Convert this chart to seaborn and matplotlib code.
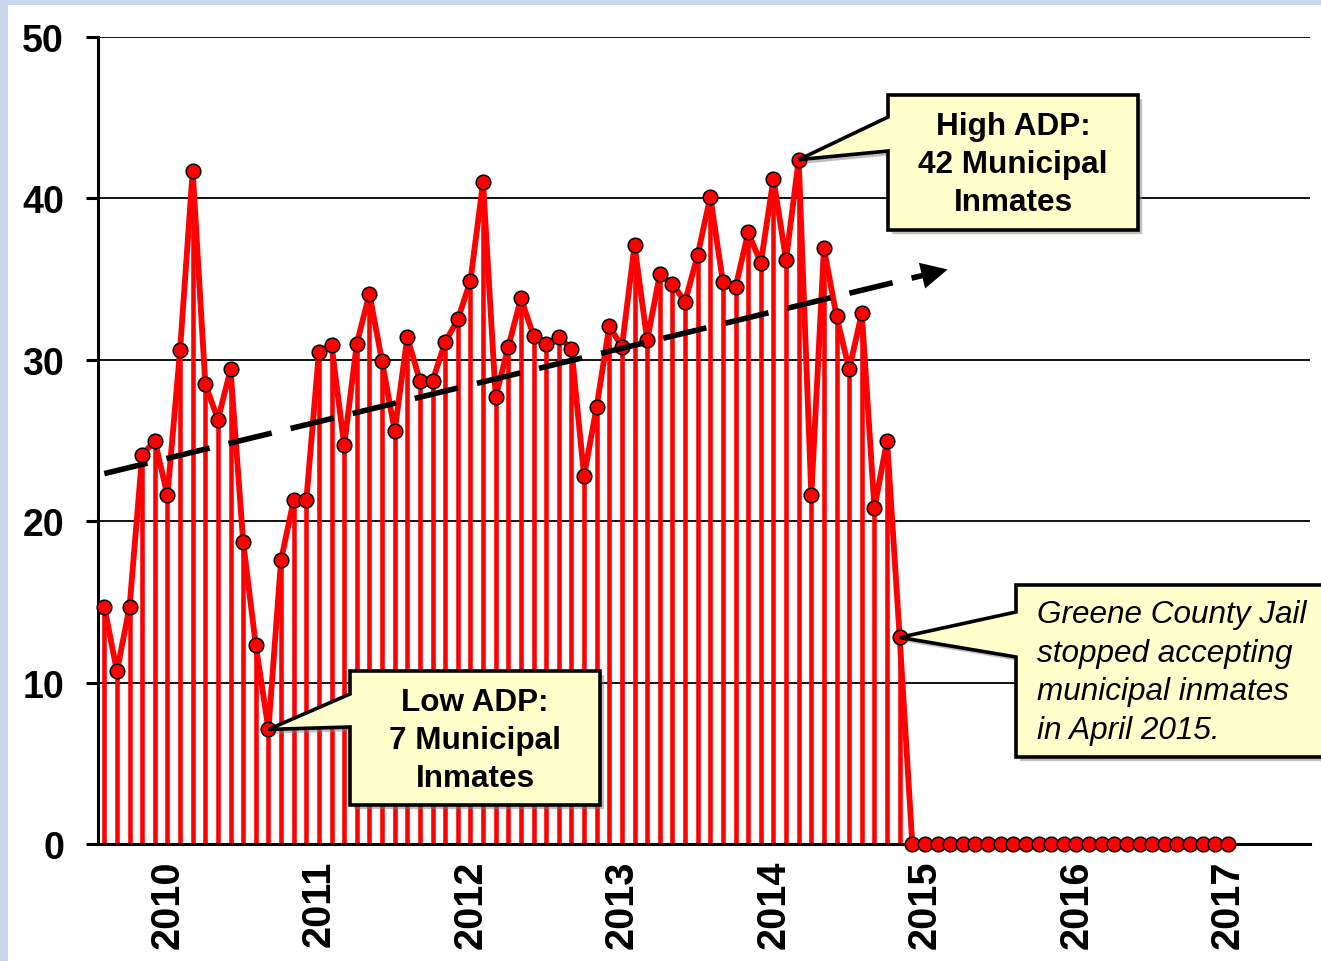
import numpy as np
import pandas as pd
import seaborn as sns
import matplotlib.pyplot as plt
from matplotlib.patches import Polygon, Rectangle
import matplotlib.patheffects as pe

# monthly municipal inmate ADP, Jan 2010 - Jun 2017
adp = [14.7, 10.7, 14.7, 24.1, 25.0, 21.6, 30.6, 41.7, 28.5, 26.3, 29.4, 18.7,
       12.3, 7.1, 17.6, 21.3, 21.3, 30.5, 30.9, 24.7, 31.0, 34.1, 29.9, 25.6,
       31.4, 28.7, 28.7, 31.1, 32.5, 34.9, 41.0, 27.7, 30.8, 33.8, 31.5, 31.0,
       31.4, 30.7, 22.8, 27.1, 32.1, 30.8, 37.1, 31.2, 35.3, 34.7, 33.6, 36.5,
       40.1, 34.8, 34.5, 37.9, 36.0, 41.2, 36.2, 42.4, 21.6, 36.9, 32.7, 29.4,
       32.9, 20.8, 25.0, 12.8] + [0] * 26
years = ['2010', '2011', '2012', '2013', '2014', '2015', '2016', '2017']

# hand drawn trend arrow (month index, value)
trend_start = (0.0, 22.95)
trend_end = (66.8, 35.6)

low_idx, high_idx, stop_idx = 13, 55, 63

df = pd.DataFrame({'month': np.arange(len(adp)), 'adp': adp})

W, H = 1321, 962
sns.set_style('white')
plt.rcParams['font.family'] = ['Liberation Sans', 'DejaVu Sans']
plt.rcParams['text.color'] = 'black'
plt.rcParams['xtick.color'] = 'black'
plt.rcParams['ytick.color'] = 'black'

fig = plt.figure(figsize=(W / 100, H / 100), dpi=100)
fig.patch.set_facecolor('#c9d5ea')
fig.patches.append(Rectangle((8 / W, 0), 1, 1 - 6 / H, transform=fig.transFigure,
                             facecolor='white', edgecolor='none', zorder=-5))

ax = fig.add_axes([98 / W, (H - 845) / H, (1310 - 98) / W, (845 - 38) / H])
ax.set_facecolor('none')

# drop lines
nz = df[df['adp'] > 0]
ax.vlines(nz['month'], 0, nz['adp'], color='red', lw=3.3, zorder=2)

sns.lineplot(data=df, x='month', y='adp', ax=ax, color='red', linewidth=4.2,
             marker='o', markersize=10.5, markerfacecolor='red',
             markeredgecolor='black', markeredgewidth=1.1, clip_on=False, zorder=3)

ax.set_xlim(-0.5, 95.5)
ax.set_ylim(0, 50)

# trend arrow
x0, y0 = trend_start
x1, y1 = trend_end
slope = (y1 - y0) / (x1 - x0)
xb = x1 - 1.6
ax.plot([x0, xb], [y0, y0 + slope * (xb - x0)], color='black', lw=4.0,
        linestyle=(0, (8.0, 3.5)), solid_capstyle='butt', zorder=4)
ax.annotate('', xy=(x1, y1), xytext=(xb, y0 + slope * (xb - x0)),
            arrowprops=dict(arrowstyle='-|>,head_length=1.0,head_width=0.5',
                            mutation_scale=19, color='black', lw=0,
                            shrinkA=0, shrinkB=0), zorder=4)

ax.set_yticks(range(0, 51, 10))
ax.grid(axis='y', color='black', lw=1.3)
ax.set_axisbelow(True)
ax.set_xticks([5 + 12 * k for k in range(len(years))])
ax.set_xticklabels(years, rotation=90, fontsize=28.5, fontweight='bold')
ax.set_xticks([-0.5 + 12 * k for k in range(len(years) + 1)], minor=True)
ax.tick_params(axis='x', which='major', length=0, pad=11)
ax.tick_params(axis='x', which='minor', length=7, width=2.2, direction='out', color='black')
ax.tick_params(axis='y', length=8.5, width=2.2, direction='out', color='black',
               labelsize=27, pad=16, left=True)
for lab in ax.get_yticklabels():
    lab.set_fontweight('bold')
ax.set_xlabel('')
ax.set_ylabel('')
sns.despine(ax=ax, top=True, right=True)
for s in ['left', 'bottom']:
    ax.spines[s].set_linewidth(2.2)
    ax.spines[s].set_color('black')


def to_fig(px, py):
    return (px / W, 1 - py / H)


def callout(box, attach, idx):
    bx0, by0, bx1, by1 = box
    tx, ty = ax.transData.transform((idx, adp[idx]))
    tip = (tx, H - ty)
    verts = [(bx0, by0), (bx1, by0), (bx1, by1), (bx0, by1),
             (bx0, attach[1]), tip, (bx0, attach[0])]
    poly = Polygon([to_fig(*v) for v in verts], closed=True, transform=fig.transFigure,
                   facecolor='#ffffcc', edgecolor='black', lw=2.6, joinstyle='miter',
                   zorder=10, clip_on=False,
                   path_effects=[pe.SimplePatchShadow(offset=(3, -3), shadow_rgbFace='gray', alpha=0.5),
                                 pe.Normal()])
    fig.patches.append(poly)


callout((888, 96, 1138, 231), (118, 152), high_idx)
callout((350, 672, 600, 806), (695, 728), low_idx)
callout((1016, 586, 1340, 758), (613, 658), stop_idx)

fig.text(*to_fig(1013, 165), 'High ADP:\n42 Municipal\nInmates', ha='center', va='center',
         fontsize=22.7, fontweight='bold', linespacing=1.35, zorder=11)
fig.text(*to_fig(475, 741), 'Low ADP:\n7 Municipal\nInmates', ha='center', va='center',
         fontsize=22.7, fontweight='bold', linespacing=1.35, zorder=11)
fig.text(*to_fig(1037, 673), 'Greene County Jail\nstopped accepting\nmunicipal inmates\nin April 2015.',
         ha='left', va='center', fontsize=22.7, fontstyle='italic', linespacing=1.37, zorder=11)

fig.savefig('out.png', dpi=100, facecolor=fig.get_facecolor())
